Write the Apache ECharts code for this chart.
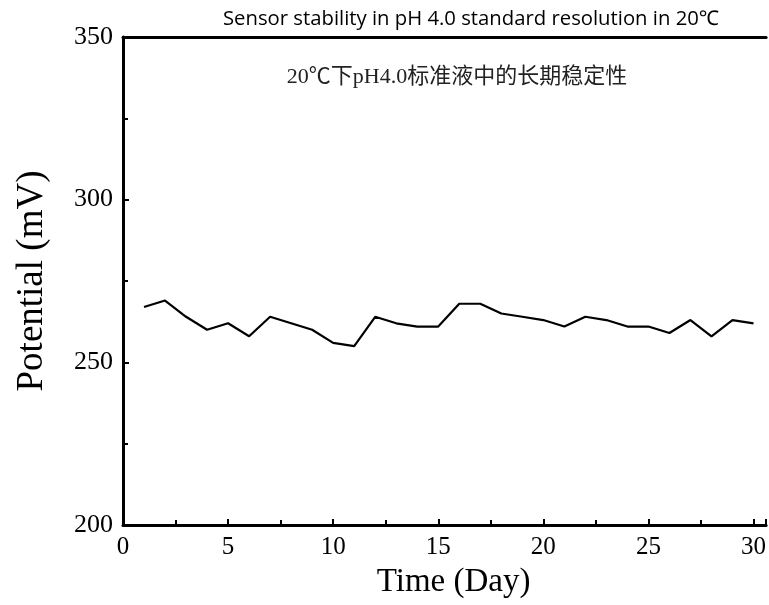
<!DOCTYPE html>
<html><head><meta charset="utf-8">
<script src="https://cdn.jsdelivr.net/npm/echarts@6/dist/echarts.min.js"></script>
<style>html,body{margin:0;padding:0;background:#fff}#c{width:769px;height:605px}</style>
</head><body><div id="c"></div>
<script>
const days = [1,2,3,4,5,6,7,8,9,10,11,12,13,14,15,16,17,18,19,20,21,22,23,24,25,26,27,28,29,30];
const potential = [267,269,264,260,262,258,264,262,260,256,255,264,262,261,261,268,268,265,264,263,261,264,263,261,261,259,263,258,263,262];
const titleText = 'Sensor stability in pH 4.0 standard resolution in 20\u2103';
const subtitleText = '20\u2103\u4e0bpH4.0\u6807\u51c6\u6db2\u4e2d\u7684\u957f\u671f\u7a33\u5b9a\u6027';
const xName = 'Time (Day)';
const yName = 'Potential (mV)';

const serif = '"Liberation Serif","DejaVu Serif",serif';
const chart = echarts.init(document.getElementById('c'));
chart.setOption({
  animation: false,
  backgroundColor: '#fff',
  title: [
    {text: titleText, left: 466, top: 4, textAlign: 'center',
     textStyle: {fontFamily: '"Open Sans","Noto Sans",sans-serif', fontSize: 20.3, fontWeight: 'normal', color: '#000'}},
    {text: subtitleText, left: 452, top: 61, textAlign: 'center',
     textStyle: {fontFamily: '"Liberation Serif","Noto Sans CJK SC",serif', fontSize: 22, fontWeight: 'normal', color: '#222'}}
  ],
  grid: {left: 123, right: 0, top: 37, bottom: 80},
  xAxis: [{
    type: 'value', min: 0, max: 30.6, interval: 5,
    name: xName, nameLocation: 'middle', nameGap: 41,
    nameTextStyle: {fontFamily: serif, fontSize: 33, color: '#000', padding: [0, 0, 0, 18]},
    axisLine: {show: true, lineStyle: {color: '#000', width: 3}},
    axisTick: {show: true, inside: true, length: 6, lineStyle: {color: '#000', width: 2}},
    minorTick: {show: true, splitNumber: 2, length: 5, lineStyle: {color: '#000', width: 2}},
    axisLabel: {showMaxLabel: false, margin: 10, fontFamily: serif, fontSize: 25, color: '#000'},
    splitLine: {show: false}
  }, {
    type: 'value', position: 'top', min: 0, max: 30.6,
    axisLine: {show: true, lineStyle: {color: '#000', width: 3}},
    axisTick: {show: false}, axisLabel: {show: false}, splitLine: {show: false}
  }],
  yAxis: {
    type: 'value', min: 200, max: 350, interval: 50,
    name: yName, nameLocation: 'middle', nameGap: 72,
    nameTextStyle: {fontFamily: serif, fontSize: 37, color: '#000'},
    axisLine: {show: true, lineStyle: {color: '#000', width: 3}},
    axisTick: {show: true, inside: true, length: 6, lineStyle: {color: '#000', width: 2}},
    minorTick: {show: true, splitNumber: 2, length: 5, lineStyle: {color: '#000', width: 2}},
    axisLabel: {margin: 10, fontFamily: serif, fontSize: 26, color: '#000'},
    splitLine: {show: false}
  },
  series: [{
    type: 'line', data: days.map((d, i) => [d, potential[i]]),
    showSymbol: false, symbol: 'none',
    lineStyle: {color: '#000', width: 2.2}
  }]
});
</script></body></html>
